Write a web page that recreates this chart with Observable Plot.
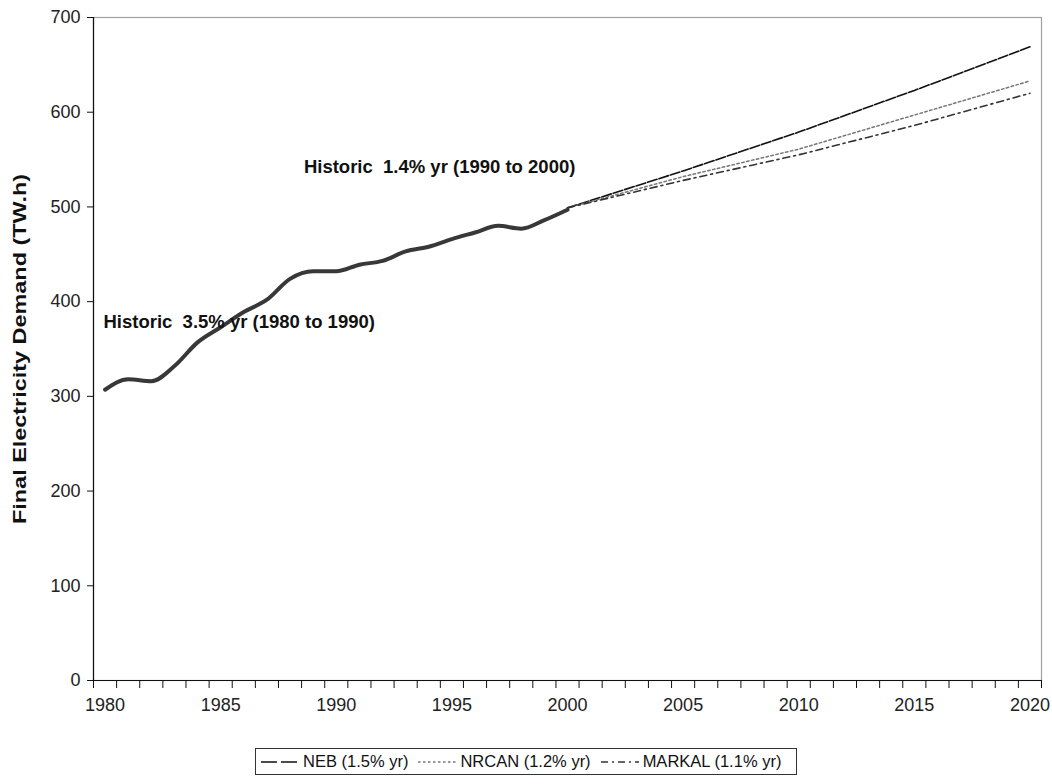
<!DOCTYPE html>
<html>
<head>
<meta charset="utf-8">
<script src="https://cdn.jsdelivr.net/npm/d3@7"></script>
<script src="https://cdn.jsdelivr.net/npm/@observablehq/plot@0.6"></script>
<style>
  html, body { margin: 0; padding: 0; background: #fff; }
  body { width: 1052px; height: 784px; overflow: hidden; font-family: "Liberation Sans", Arial, sans-serif; }
  svg text { white-space: pre; }
  #legend {
    position: absolute; left: 255px; top: 748px; width: 542px; height: 27px;
    border: 1px solid #333; display: flex; align-items: center; box-sizing: border-box;
    font-size: 16.5px; color: #111; white-space: nowrap;
  }
  #legend .item { display: flex; align-items: center; margin-left: 4px; margin-right: 5px; }
  #legend svg { margin-right: 3px; }
</style>
</head>
<body>
<div id="chart"></div>
<div id="legend"></div>
<script>
// Historic series (TW.h)
const histYears  = [1980,1981,1982,1983,1984,1985,1986,1987,1988,1989,1990,1991,1992,1993,1994,1995,1996,1997,1998,1999,2000];
const histValues = [307, 318, 316, 332, 357, 373, 389, 402, 424, 432, 432, 439, 443, 453, 458, 466, 473, 480, 477, 486, 497];

// Projections
const projYears    = [2000, 2005, 2010, 2015, 2020];
const nebValues    = [499, 538, 579, 623, 669];
const nrcanValues  = [499, 532, 561, 597, 633];
const markalValues = [499, 528, 555, 586, 620];

const seriesNames = ["NEB (1.5% yr)", "NRCAN (1.2% yr)", "MARKAL (1.1% yr)"];

// Axis ticks
const yTicks = [0, 100, 200, 300, 400, 500, 600, 700];
const xLabelYears = [1980, 1985, 1990, 1995, 2000, 2005, 2010, 2015, 2020];
const allYears = d3.range(1980, 2021);

// Annotations
const annotations = [
  {year: 1988.6, value: 542, text: "Historic  1.4% yr (1990 to 2000)"},
  {year: 1979.93, value: 378, text: "Historic  3.5% yr (1980 to 1990)"}
];

const hist = histYears.map((y, i) => ({year: y, value: histValues[i]}));
const mk = vals => projYears.map((y, i) => ({year: y, value: vals[i]}));
const neb = mk(nebValues), nrcan = mk(nrcanValues), markal = mk(markalValues);

// category boundaries (ticks between categories)
const tickBounds = allYears.map(y => y - 0.5).concat([2020.5]);

const styles = {
  neb:    {stroke: "#111", strokeWidth: 1.6, strokeDasharray: "10,2"},
  nrcan:  {stroke: "#777", strokeWidth: 1.5, strokeDasharray: "2.5,2.5"},
  markal: {stroke: "#333", strokeWidth: 1.6, strokeDasharray: "7,4,2,4"}
};

const plot = Plot.plot({
  width: 1052,
  height: 740,
  marginLeft: 93,
  marginRight: 11,
  marginTop: 17,
  marginBottom: 60,
  style: {fontFamily: "'Liberation Sans', Arial, sans-serif", background: "#fff", overflow: "visible"},
  x: {domain: [1979.5, 2020.5]},
  y: {domain: [0, 700]},
  marks: [
    Plot.frame({stroke: "#a0a0a0", strokeWidth: 1.2}),
    Plot.ruleX([1979.5], {stroke: "#111", strokeWidth: 1.2}),
    Plot.ruleY([0], {stroke: "#111", strokeWidth: 1.2}),
    Plot.axisY({ticks: yTicks, tickSize: 6, tickPadding: 7, fontSize: 18, label: null, stroke: "#111", fill: "#222", tickFormat: d => String(d)}),
    Plot.axisX({ticks: tickBounds, tickSize: 8, tickFormat: () => "", label: null, stroke: "#111"}),
    Plot.axisX({ticks: xLabelYears, tickSize: 0, tickPadding: 18, fontSize: 18, label: null, fill: "#222", tickFormat: d => String(d)}),
    Plot.text(["Final Electricity Demand (TW.h)"], {frameAnchor: "left", rotate: -90, dx: -74, fontSize: 19, fontWeight: "bold", fill: "#111", className: "ylab"}),
    Plot.line(neb, {x: "year", y: "value", ...styles.neb}),
    Plot.line(nrcan, {x: "year", y: "value", ...styles.nrcan}),
    Plot.line(markal, {x: "year", y: "value", ...styles.markal}),
    Plot.line(hist, {x: "year", y: "value", stroke: "#383838", strokeWidth: 4, curve: "monotone-x"}),
    Plot.text(annotations, {x: "year", y: "value", text: "text", textAnchor: "start", fontSize: 18.5, fontWeight: "bold", fill: "#111"})
  ]
});
document.getElementById("chart").appendChild(plot);

// stretch the y label to the reference's length, keeping it centred
const yl = plot.querySelector(".ylab text");
if (yl) {
  yl.setAttribute("text-anchor", "start");
  yl.setAttribute("x", -175);
  yl.setAttribute("textLength", 350);
  yl.setAttribute("lengthAdjust", "spacingAndGlyphs");
}

// Legend
const legend = d3.select("#legend");
const keys = ["neb", "nrcan", "markal"];
keys.forEach((k, i) => {
  const item = legend.append("div").attr("class", "item");
  const s = item.append("svg").attr("width", 40).attr("height", 10);
  s.append("line").attr("x1", 1).attr("x2", 39).attr("y1", 5).attr("y2", 5)
    .attr("stroke", styles[k].stroke).attr("stroke-width", styles[k].strokeWidth)
    .attr("stroke-dasharray", k === "neb" ? "16,4" : styles[k].strokeDasharray);
  item.append("span").text(seriesNames[i]);
});
</script>
</body>
</html>
